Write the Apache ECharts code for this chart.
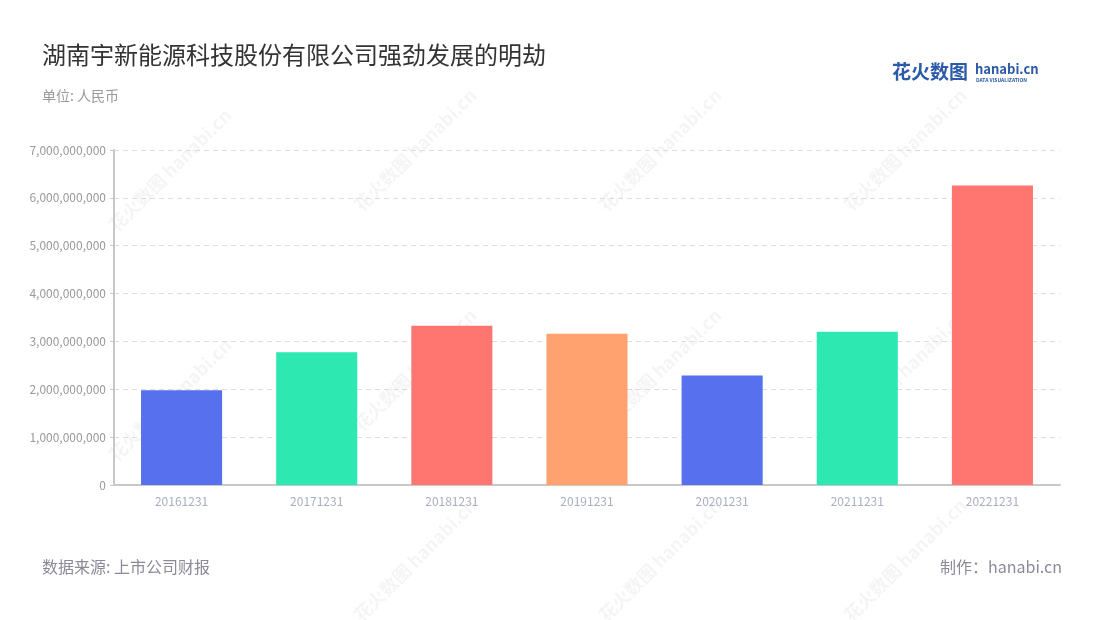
<!DOCTYPE html>
<html>
<head>
<meta charset="utf-8">
<script src="https://cdn.jsdelivr.net/npm/echarts@6/dist/echarts.min.js"></script>
<style>html,body{margin:0;padding:0;background:#fff}#c{width:1100px;height:620px}</style>
</head>
<body>
<div id="c"></div>
<script>
const categories = ['20161231','20171231','20181231','20191231','20201231','20211231','20221231'];
const revenue = [1980000000, 2775000000, 3330000000, 3160000000, 2290000000, 3200000000, 6260000000];
const barColors = ['#5771ee','#2ee8b2','#ff7670','#ffa270','#5771ee','#2ee8b2','#ff7670'];
const yTicks = { min: 0, max: 7000000000, interval: 1000000000 };

const chart = echarts.init(document.getElementById('c'));
const font = '"Noto Sans CJK SC","Noto Sans",sans-serif';

const wm = [];
const wmPos = [[170,170],[415,150],[660,150],[905,150],[170,400],[415,370],[660,370],[905,370],[415,560],[660,560],[905,560]];
wmPos.forEach(p => {
  wm.push({
    type: 'text', x: p[0], y: p[1], rotation: Math.PI/4, z: -1,
    style: { text: '花火数图 hanabi.cn', fill: 'rgba(0,0,0,0.045)', font: 'bold 18px ' + font, textAlign: 'center', textVerticalAlign: 'middle' }
  });
});

chart.setOption({
  backgroundColor: '#fff',
  textStyle: { fontFamily: font },
  title: [
    { text: '湖南宇新能源科技股份有限公司强劲发展的明劫', left: 37, top: 38, textStyle: { fontSize: 24, fontWeight: 'normal', color: '#333' } },
    { text: '单位: 人民币', left: 37, top: 84, textStyle: { fontSize: 14, fontWeight: 'normal', color: '#999' } },
    { text: '数据来源: 上市公司财报', left: 37, top: 554, textStyle: { fontSize: 16, fontWeight: 'normal', color: '#8a8a98' } },
    { text: '制作：hanabi.cn', right: 33, top: 554, textStyle: { fontSize: 16, fontWeight: 'normal', color: '#8a8a98' } }
  ],
  graphic: wm.concat([
    { type: 'text', x: 892, y: 62, style: { text: '花火数图', fill: '#2a5aa8', font: 'bold 19px ' + font } },
    { type: 'text', x: 975, y: 63, style: { text: 'hanabi.cn', fill: '#2a5aa8', font: 'bold 13px ' + font } },
    { type: 'text', x: 976, y: 78, style: { text: 'DATA VISUALIZATION', fill: '#2a5aa8', font: 'bold 5px ' + font } }
  ]),
  grid: { left: 114, right: 40, top: 150, bottom: 135 },
  xAxis: {
    type: 'category', data: categories,
    axisLine: { lineStyle: { color: '#c8c8c8', width: 2 } },
    axisTick: { alignWithLabel: true, lineStyle: { color: '#999' } },
    axisLabel: { color: '#a8aec0', fontSize: 12, margin: 10 }
  },
  yAxis: {
    type: 'value', min: yTicks.min, max: yTicks.max, interval: yTicks.interval,
    axisLine: { show: true, lineStyle: { color: '#c8c8c8', width: 2 } },
    axisTick: { show: true, length: 4, lineStyle: { color: '#c8c8c8' } },
    axisLabel: { color: '#999', fontSize: 12, margin: 8, formatter: v => v.toLocaleString('en-US') },
    splitLine: { lineStyle: { color: '#ddd', type: [5, 4] } }
  },
  series: [{
    type: 'bar', barWidth: '60%',
    data: revenue.map((v, i) => ({ value: v, itemStyle: { color: barColors[i] } }))
  }]
});
</script>
</body>
</html>
